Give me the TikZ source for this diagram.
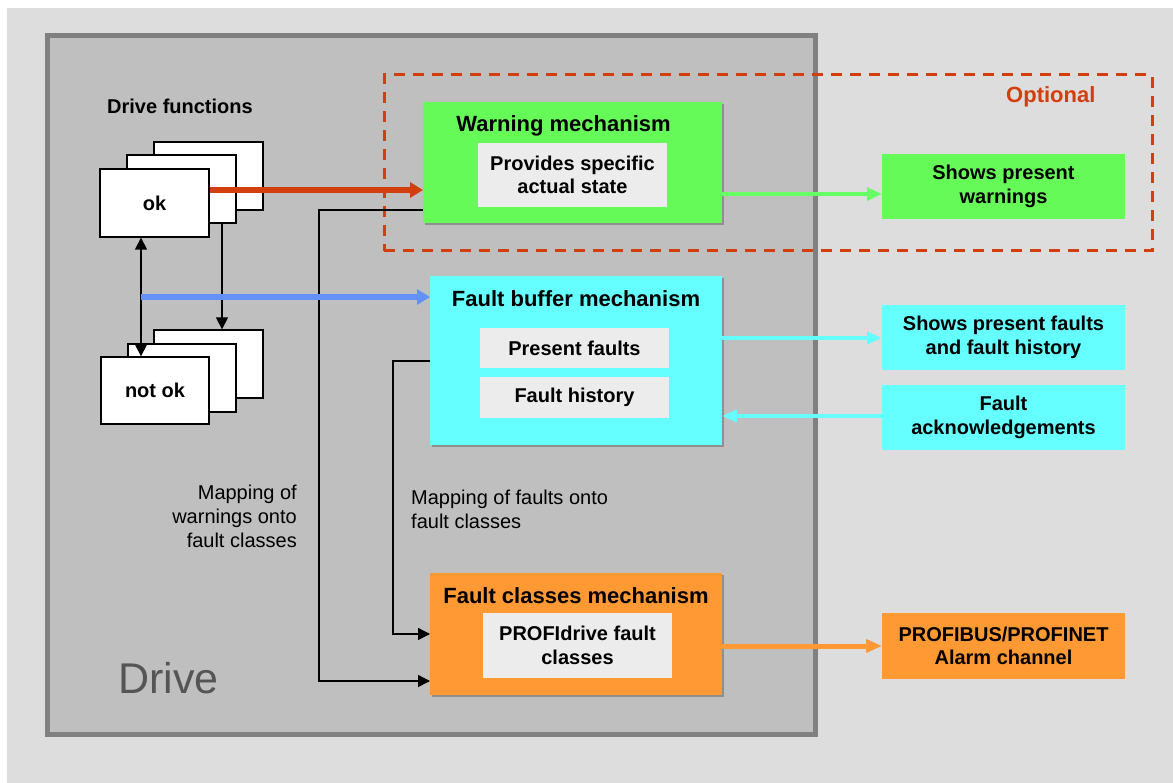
\documentclass[tikz,border=0pt]{standalone}
\usepackage{fontspec}
\setmainfont{Liberation Sans}
\usetikzlibrary{arrows.meta,shadows}
\definecolor{bgc}{RGB}{221,221,221}
\definecolor{drvfill}{RGB}{191,191,191}
\definecolor{drvborder}{RGB}{128,128,128}
\definecolor{drvtext}{RGB}{85,85,85}
\definecolor{mgreen}{RGB}{102,250,88}
\definecolor{mcyan}{RGB}{102,255,255}
\definecolor{morange}{RGB}{255,153,51}
\definecolor{innergray}{RGB}{236,236,236}
\definecolor{optred}{RGB}{210,62,12}
\definecolor{ablue}{RGB}{100,145,245}
\definecolor{agreen}{RGB}{102,255,102}
\begin{document}
\begin{tikzpicture}[x=1pt,y=-1pt,
  txt/.style={font=\fontsize{20}{23.5}\selectfont\bfseries, align=center},
  ttl/.style={font=\fontsize{22}{26}\selectfont\bfseries, inner sep=0pt},
  mech/.style={inner sep=0pt, outer sep=0pt, drop shadow={shadow xshift=2pt,shadow yshift=-2pt,opacity=0.25,fill=black}},
  inbox/.style={fill=innergray, inner sep=0pt, txt},
  outbox/.style={inner sep=0pt, outer sep=0pt, txt},
  stackbox/.style={draw=black, line width=1.3pt, fill=white, inner sep=0pt, txt},
  blk/.style={draw=black, line width=1.3pt},
  blktip/.style={-{Triangle[length=12pt,width=12pt]}},
  maplabel/.style={font=\fontsize{20}{24}\selectfont, inner sep=0pt},
]
\useasboundingbox (0,0) rectangle (1173,783);
\fill[white] (0,0) rectangle (1173,783);
\fill[bgc] (7,8) rectangle (1173,783);

% Drive box
\node[draw=drvborder, fill=drvfill, line width=5pt, inner sep=0pt,
      minimum width=768pt, minimum height=699pt] (drive) at (431.5,385) {};
\node[anchor=base west, inner sep=0pt, text=drvtext, font=\fontsize{43}{50}\selectfont] (drivelbl) at (118,693) {Drive};

% Drive functions
\node[anchor=base west, inner sep=0pt, font=\fontsize{20}{24}\selectfont\bfseries] (dflbl) at (107,114) {Drive functions};
\node[stackbox, minimum width=109pt, minimum height=68pt] (okb) at (208.5,176) {};
\node[stackbox, minimum width=109pt, minimum height=68pt] (okm) at (181.5,189) {};
\node[stackbox, minimum width=109pt, minimum height=68pt] (ok) at (154.5,203) {ok};
\node[stackbox, minimum width=109pt, minimum height=68pt] (nokb) at (208.5,364) {};
\node[stackbox, minimum width=108pt, minimum height=68pt] (nokm) at (182,378) {};
\node[stackbox, minimum width=108pt, minimum height=67pt] (nok) at (155,390.5) {not ok};

% Optional dashed region
\node[draw=optred, line width=3pt, dash pattern=on 11pt off 8pt, inner sep=0pt,
      minimum width=768pt, minimum height=176pt] (opt) at (768,163) {};
\node[anchor=base west, inner sep=0pt, text=optred, font=\fontsize{22}{26}\selectfont\bfseries] (optlbl) at (1006,103) {Optional};

% Warning mechanism
\node[mech, fill=mgreen, minimum width=299pt, minimum height=121pt] (warn) at (572.5,162.5) {};
\node[ttl, anchor=base] (warnT) at (563.5,132) {Warning mechanism};
\node[inbox, minimum width=189pt, minimum height=64pt] (warnI) at (572.5,175) {Provides specific\\actual state};

% Fault buffer mechanism
\node[mech, fill=mcyan, minimum width=292pt, minimum height=169pt] (fbm) at (576,360.5) {};
\node[ttl, anchor=base] (fbmT) at (576,307) {Fault buffer mechanism};
\node[inbox, minimum width=189pt, minimum height=40pt] (pf) at (574.5,348) {Present faults};
\node[inbox, minimum width=189pt, minimum height=41pt] (fh) at (574.5,397.5) {Fault history};

% Fault classes mechanism
\node[mech, fill=morange, minimum width=292pt, minimum height=122pt] (fcm) at (576,634) {};
\node[ttl, anchor=base] (fcmT) at (576,603) {Fault classes mechanism};
\node[inbox, minimum width=189pt, minimum height=65pt] (fcI) at (577.5,645.5) {PROFIdrive fault\\classes};

% Outputs
\node[outbox, fill=mgreen, minimum width=243pt, minimum height=65pt] (spw) at (1003.5,186.5) {Shows present\\warnings};
\node[outbox, fill=mcyan, minimum width=243pt, minimum height=65pt] (spf) at (1003.5,337.5) {Shows present faults\\and fault history};
\node[outbox, fill=mcyan, minimum width=243pt, minimum height=65pt] (fack) at (1003.5,417.5) {Fault\\acknowledgements};
\node[outbox, fill=morange, minimum width=243pt, minimum height=66pt] (alarm) at (1003.5,646) {PROFIBUS/PROFINET\\Alarm channel};

% Mapping labels (base anchor = baseline of last line)
\node[maplabel, anchor=base east, align=right] (map1) at (297,547) {Mapping of\\warnings onto\\fault classes};
\node[maplabel, anchor=base west, align=left] (map2) at (411,528) {Mapping of faults onto\\fault classes};

% helper coordinates
\coordinate (y190) at (0,190);
\coordinate (y194) at (0,194);
\coordinate (y210) at (0,210);
\coordinate (y338) at (0,338);
\coordinate (y361) at (0,361);
\coordinate (y416) at (0,416);
\coordinate (y646) at (0,646);
\coordinate (x141) at (141,0);
\coordinate (x222) at (222,0);
\coordinate (bstart) at (141,297);
\coordinate (cA) at (319,681);
\coordinate (cB) at (393,634);

% black connectors
\draw[blk, {Triangle[length=12pt,width=12pt]}-{Triangle[length=12pt,width=12pt]}] (ok.south -| x141) -- (nok.north -| x141);
\draw[blk, blktip] (okm.south -| x222) -- (nokb.north -| x222);
\draw[blk, blktip] (warn.west |- y210) -| (cA) -- (fcm.west |- cA);
\draw[blk, blktip] (fbm.west |- y361) -| (cB) -- (fcm.west |- cB);

% coloured connectors
\draw[optred, line width=5.5pt, -{Triangle[length=13pt,width=15pt]}] (ok.east |- y190) -- (warn.west |- y190);
\draw[ablue, line width=5.5pt, -{Triangle[length=13pt,width=15pt]}] (bstart) -- (fbm.west |- bstart);
\draw[agreen, line width=4.5pt, -{Triangle[length=15pt,width=13pt]}] (warn.east |- y194) -- (spw.west |- y194);
\draw[mcyan, line width=4pt, -{Triangle[length=15pt,width=12pt]}] (fbm.east |- y338) -- (spf.west |- y338);
\draw[mcyan, line width=4pt, -{Triangle[length=15pt,width=12pt]}] (fack.west |- y416) -- (fbm.east |- y416);
\draw[morange, line width=5pt, -{Triangle[length=16pt,width=13pt]}] (fcm.east |- y646) -- (alarm.west |- y646);
\end{tikzpicture}
\end{document}
